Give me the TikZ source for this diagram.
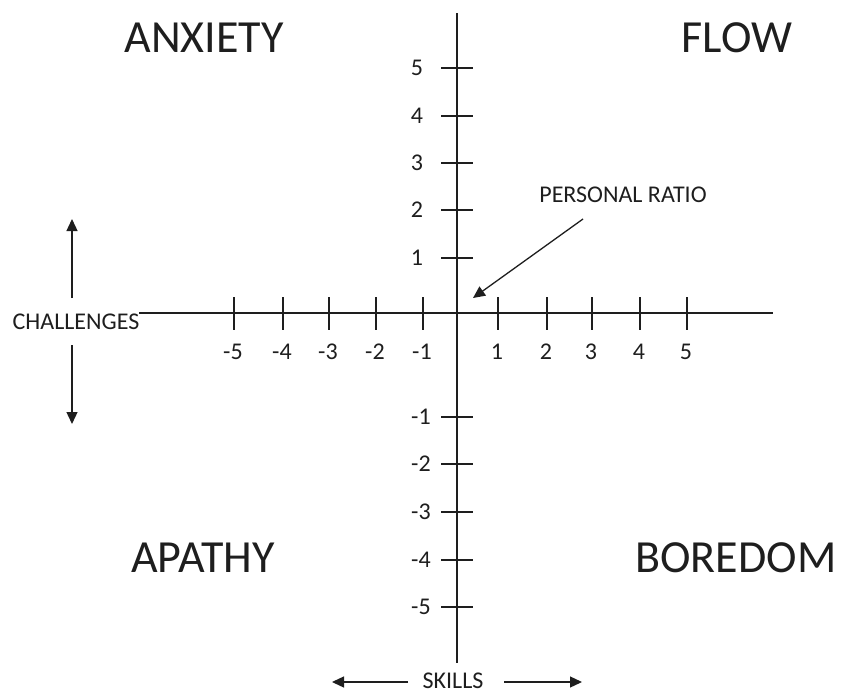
\documentclass[tikz,border=0pt]{standalone}
\usepackage{fontspec}
\setmainfont{Carlito}
\usetikzlibrary{arrows.meta}
\definecolor{ink}{RGB}{30,30,30}
\begin{document}
\begin{tikzpicture}[x=1pt,y=-1pt,
  axisline/.style={draw=ink,line width=1.8pt},
  tickline/.style={draw=ink,line width=1.6pt},
  dirarrow/.style={draw=ink,line width=1.3pt,-{Triangle[length=12pt,width=11pt]}},
  biglabel/.style={inner sep=0pt,text=ink,font=\fontsize{46}{50}\selectfont},
  smalllabel/.style={inner sep=0pt,text=ink,font=\fontsize{24}{26}\selectfont},
  ticklabel/.style={inner sep=0pt,text=ink,font=\fontsize{24}{26}\selectfont}]
\useasboundingbox (0,0) rectangle (844,696);
% axes
\coordinate (vtop) at (457,13);
\coordinate (vbot) at (457,663);
\coordinate (hleft) at (139,313);
\coordinate (hright) at (773,313);
\draw[axisline] (vtop) -- (vbot);
\draw[axisline] (hleft) -- (hright);
% x ticks
\foreach \v/\px in {-5/234,-4/283,-3/329,-2/376,-1/423,1/498,2/547,3/592,4/640,5/687}{
  \coordinate (xt\v a) at (\px,297);
  \coordinate (xt\v b) at (\px,330);
  \draw[tickline] (xt\v a) -- (xt\v b);
  \node[ticklabel] (xl\v) at (\px-1,352) {\v};
}
% y ticks
\foreach \v/\py/\lx in {5/68/417,4/116/417,3/163/417,2/210/417,1/258/417,-1/417/421,-2/464/421,-3/512/421,-4/560/421,-5/607/421}{
  \coordinate (yt\v a) at (441,\py);
  \coordinate (yt\v b) at (473,\py);
  \draw[tickline] (yt\v a) -- (yt\v b);
  \node[ticklabel] (yl\v) at (\lx,\py) {\v};
}
% quadrant labels
\node[biglabel] (anx) at (204,38) {ANXIETY};
\node[biglabel] (flow) at (737,38) {FLOW};
\node[biglabel] (apa) at (203,558) {APATHY};
\node[biglabel] (bor) at (736,558) {BOREDOM};
% personal ratio
\node[smalllabel] (pr) at (623,195) {PERSONAL RATIO};
\coordinate (prtail) at (583,219);
\coordinate (prtip) at (473,298);
\draw[dirarrow] (prtail) -- (prtip);
% challenges
\node[smalllabel] (ch) at (76,322) {CHALLENGES};
\coordinate (chup1) at (72,298);
\coordinate (chup2) at (72,219);
\coordinate (chdn1) at (72,345);
\coordinate (chdn2) at (72,424);
\draw[dirarrow] (chup1) -- (chup2);
\draw[dirarrow] (chdn1) -- (chdn2);
% skills
\node[smalllabel] (sk) at (453,681) {SKILLS};
\coordinate (skl1) at (408,682);
\coordinate (skl2) at (332,682);
\coordinate (skr1) at (504,682);
\coordinate (skr2) at (582,682);
\draw[dirarrow] (skl1) -- (skl2);
\draw[dirarrow] (skr1) -- (skr2);
\end{tikzpicture}
\end{document}
